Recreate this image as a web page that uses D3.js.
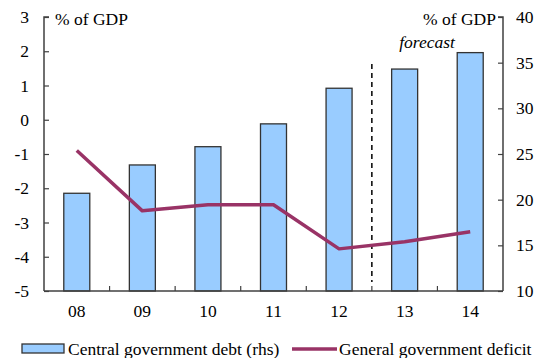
<!DOCTYPE html>
<html><head><meta charset="utf-8">
<script src="https://cdn.jsdelivr.net/npm/d3@7"></script>
<style>body{margin:0;background:#fff}</style>
</head><body><svg id="c" width="543" height="358"></svg>
<script>
const categories = ["08","09","10","11","12","13","14"];
const debt = [20.7, 23.8, 25.8, 28.3, 32.2, 34.3, 36.1];
const deficit = [-0.9, -2.66, -2.48, -2.48, -3.77, -3.56, -3.27];
const leftTicks = [-5,-4,-3,-2,-1,0,1,2,3];
const rightTicks = [10,15,20,25,30,35,40];
const forecastAfter = "12";

const svg = d3.select("#c");
const L = 44, R = 503, T = 17, B = 291;
const x = d3.scaleBand().domain(categories).range([L, R]).paddingInner(0).paddingOuter(0);
const yL = d3.scaleLinear().domain([-5, 3]).range([B, T]);
const yR = d3.scaleLinear().domain([10, 40]).range([B, T]);
const axisCol = "#404040";
const FF = "Liberation Serif";

// bars
const bw = 26;
svg.append("g").selectAll("rect").data(categories).join("rect")
  .attr("x", d => x(d) + x.bandwidth()/2 - bw/2)
  .attr("y", (d,i) => yR(debt[i]))
  .attr("width", bw)
  .attr("height", (d,i) => B - yR(debt[i]))
  .attr("fill", "#99CCFF").attr("stroke", "#333").attr("stroke-width", 1.3);

// forecast divider
const divX = (x(forecastAfter) + x.bandwidth()/2 + bw/2 + x("13") + x.bandwidth()/2 - bw/2) / 2;
svg.append("line").attr("x1", divX).attr("x2", divX).attr("y1", 64).attr("y2", 282)
  .attr("stroke", "#000").attr("stroke-width", 1.5).attr("stroke-dasharray", "5,4");

// line
const line = d3.line().x((d,i) => x(categories[i]) + x.bandwidth()/2).y(d => yL(d));
svg.append("path").datum(deficit).attr("d", line).attr("fill", "none")
  .attr("stroke", "#993366").attr("stroke-width", 3.5).attr("stroke-linejoin", "round");

// axes
const fs = 17.5;
const gl = svg.append("g").attr("transform", `translate(${L},0)`)
  .call(d3.axisRight(yL).tickValues(leftTicks).tickSize(5).tickFormat(""));
gl.select(".domain").attr("stroke", axisCol).attr("stroke-width", 1.5).attr("d", `M5,${T}H0V${B}`);
gl.selectAll(".tick line").attr("stroke", axisCol).attr("stroke-width", 1.2);

const gr = svg.append("g").attr("transform", `translate(${R},0)`)
  .call(d3.axisLeft(yR).tickValues(rightTicks).tickSize(5).tickFormat(""));
gr.select(".domain").attr("stroke", axisCol).attr("stroke-width", 1.5).attr("d", `M-5,${T}H0V${B}`);
gr.selectAll(".tick line").attr("stroke", axisCol).attr("stroke-width", 1.2);

svg.append("line").attr("x1", L).attr("x2", R).attr("y1", B).attr("y2", B)
  .attr("stroke", axisCol).attr("stroke-width", 1.5);
svg.append("g").selectAll("line").data(categories.slice(1)).join("line")
  .attr("x1", d => x(d)).attr("x2", d => x(d)).attr("y1", B).attr("y2", B - 5)
  .attr("stroke", axisCol).attr("stroke-width", 1.2);

const tg = svg.append("g").attr("font-family", FF).attr("font-size", fs).attr("fill", "#000");
tg.selectAll(".ll").data(leftTicks).join("text").attr("class","ll")
  .attr("x", 29).attr("y", d => yL(d) + 6).attr("text-anchor", "end").text(d => d);
tg.selectAll(".rl").data(rightTicks).join("text").attr("class","rl")
  .attr("x", 516).attr("y", d => yR(d) + 6).attr("text-anchor", "start").text(d => d);
tg.selectAll(".xl").data(categories).join("text").attr("class","xl")
  .attr("x", d => x(d) + x.bandwidth()/2).attr("y", 317).attr("text-anchor", "middle").text(d => d);
tg.append("text").attr("x", 427).attr("y", 48).attr("text-anchor", "middle")
  .attr("font-style", "italic").text("forecast");
tg.append("text").attr("x", 55).attr("y", 25).text("% of GDP");
tg.append("text").attr("x", 496).attr("y", 25).attr("text-anchor", "end").text("% of GDP");

// legend
svg.append("rect").attr("x", 22).attr("y", 344).attr("width", 42).attr("height", 9)
  .attr("fill", "#99CCFF").attr("stroke", "#333").attr("stroke-width", 1.3);
tg.append("text").attr("x", 68).attr("y", 355).text("Central government debt (rhs)");
svg.append("line").attr("x1", 292).attr("x2", 337).attr("y1", 349).attr("y2", 349)
  .attr("stroke", "#993366").attr("stroke-width", 3.5);
tg.append("text").attr("x", 339).attr("y", 355).text("General government deficit");
</script></body></html>
